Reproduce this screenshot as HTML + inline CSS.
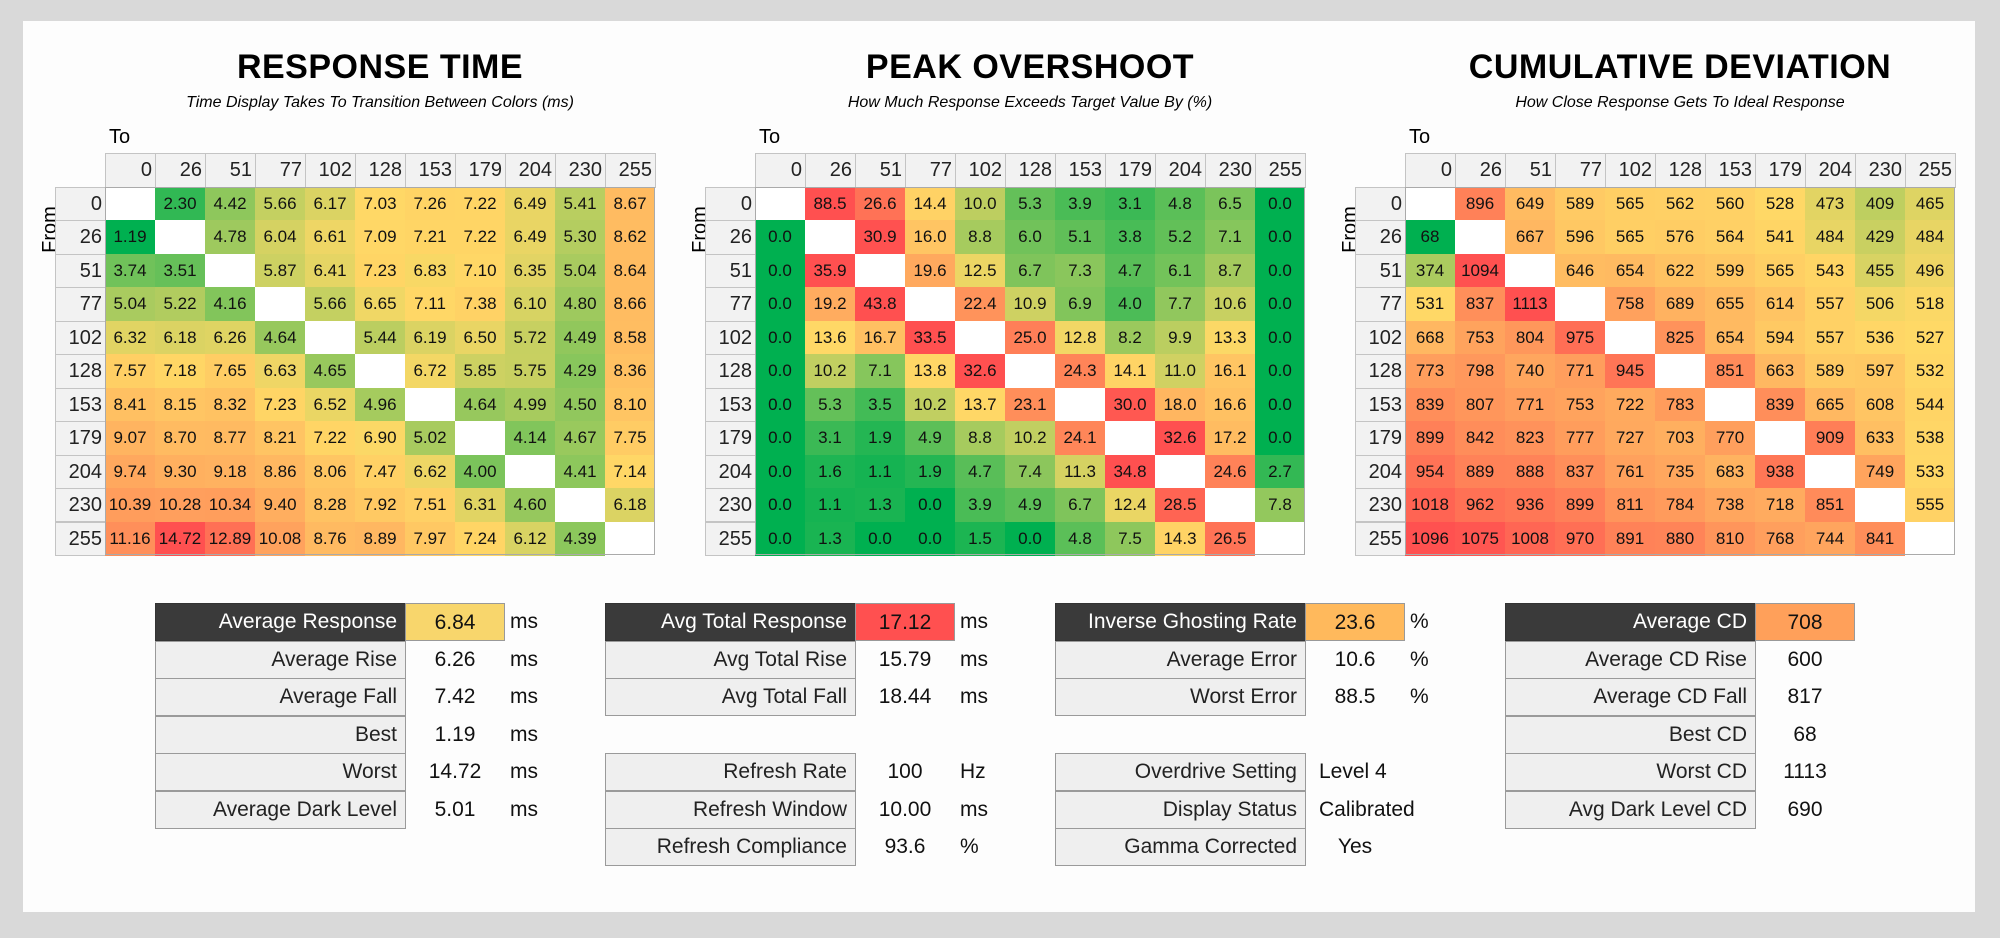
<!DOCTYPE html>
<html><head><meta charset="utf-8"><style>
body{margin:0;width:2000px;height:938px;background:#d9d9d9;font-family:"Liberation Sans",sans-serif;overflow:hidden;position:relative}
#panel{position:absolute;left:23px;top:21px;width:1952px;height:891px;background:#fdfdfd}
.a{position:absolute;box-sizing:border-box;white-space:nowrap}
.title{font-size:34px;font-weight:600;text-align:center;width:600px;letter-spacing:0.5px}
.sub{font-size:16px;font-style:italic;text-align:center;width:600px}
.hc{background:#f2f2f2;border:1px solid #c4c4c4;font-size:20px;text-align:right;padding-right:3px;line-height:32px;color:#222}
.dc{font-size:17px;text-align:center;line-height:33px;color:#111}
.lab{background:#efefef;border:1px solid #9a9a9a;font-size:21px;text-align:right;padding-right:8px;line-height:35px;color:#222}
.hd{background:#3a3a3a;color:#fff;border:1px solid #333}
.val{font-size:21px;text-align:center;line-height:37px;color:#111}
.unit{font-size:21px;line-height:37px;color:#111}
</style></head><body>
<div id="panel"></div>
<script>
const cats=[0,26,51,77,102,128,153,179,204,230,255];
const rtVals=[
[null,2.30,4.42,5.66,6.17,7.03,7.26,7.22,6.49,5.41,8.67],
[1.19,null,4.78,6.04,6.61,7.09,7.21,7.22,6.49,5.30,8.62],
[3.74,3.51,null,5.87,6.41,7.23,6.83,7.10,6.35,5.04,8.64],
[5.04,5.22,4.16,null,5.66,6.65,7.11,7.38,6.10,4.80,8.66],
[6.32,6.18,6.26,4.64,null,5.44,6.19,6.50,5.72,4.49,8.58],
[7.57,7.18,7.65,6.63,4.65,null,6.72,5.85,5.75,4.29,8.36],
[8.41,8.15,8.32,7.23,6.52,4.96,null,4.64,4.99,4.50,8.10],
[9.07,8.70,8.77,8.21,7.22,6.90,5.02,null,4.14,4.67,7.75],
[9.74,9.30,9.18,8.86,8.06,7.47,6.62,4.00,null,4.41,7.14],
[10.39,10.28,10.34,9.40,8.28,7.92,7.51,6.31,4.60,null,6.18],
[11.16,14.72,12.89,10.08,8.76,8.89,7.97,7.24,6.12,4.39,null]];
const osVals=[
[null,88.5,26.6,14.4,10.0,5.3,3.9,3.1,4.8,6.5,0.0],
[0.0,null,30.9,16.0,8.8,6.0,5.1,3.8,5.2,7.1,0.0],
[0.0,35.9,null,19.6,12.5,6.7,7.3,4.7,6.1,8.7,0.0],
[0.0,19.2,43.8,null,22.4,10.9,6.9,4.0,7.7,10.6,0.0],
[0.0,13.6,16.7,33.5,null,25.0,12.8,8.2,9.9,13.3,0.0],
[0.0,10.2,7.1,13.8,32.6,null,24.3,14.1,11.0,16.1,0.0],
[0.0,5.3,3.5,10.2,13.7,23.1,null,30.0,18.0,16.6,0.0],
[0.0,3.1,1.9,4.9,8.8,10.2,24.1,null,32.6,17.2,0.0],
[0.0,1.6,1.1,1.9,4.7,7.4,11.3,34.8,null,24.6,2.7],
[0.0,1.1,1.3,0.0,3.9,4.9,6.7,12.4,28.5,null,7.8],
[0.0,1.3,0.0,0.0,1.5,0.0,4.8,7.5,14.3,26.5,null]];
const cdVals=[
[null,896,649,589,565,562,560,528,473,409,465],
[68,null,667,596,565,576,564,541,484,429,484],
[374,1094,null,646,654,622,599,565,543,455,496],
[531,837,1113,null,758,689,655,614,557,506,518],
[668,753,804,975,null,825,654,594,557,536,527],
[773,798,740,771,945,null,851,663,589,597,532],
[839,807,771,753,722,783,null,839,665,608,544],
[899,842,823,777,727,703,770,null,909,633,538],
[954,889,888,837,761,735,683,938,null,749,533],
[1018,962,936,899,811,784,738,718,851,null,555],
[1096,1075,1008,970,891,880,810,768,744,841,null]];
const rtStats=[["Average Response","6.84","ms"],["Average Rise","6.26","ms"],["Average Fall","7.42","ms"],["Best","1.19","ms"],["Worst","14.72","ms"],["Average Dark Level","5.01","ms"]];
const osStats=[["Avg Total Response","17.12","ms"],["Avg Total Rise","15.79","ms"],["Avg Total Fall","18.44","ms"],null,["Refresh Rate","100","Hz"],["Refresh Window","10.00","ms"],["Refresh Compliance","93.6","%"]];
const igStats=[["Inverse Ghosting Rate","23.6","%"],["Average Error","10.6","%"],["Worst Error","88.5","%"],null,["Overdrive Setting","Level 4",""],["Display Status","Calibrated",""],["Gamma Corrected","Yes",""]];
const cdStats=[["Average CD","708",""],["Average CD Rise","600",""],["Average CD Fall","817",""],["Best CD","68",""],["Worst CD","1113",""],["Avg Dark Level CD","690",""]];

function mix(a,b,t){return a.map((v,i)=>Math.round(v+(b[i]-v)*t));}
const G=[0,176,80],Y=[255,217,102],R=[255,80,80];
function col(v,lo,mid,hi){
  let c;
  if(v<=mid){c=mix(G,Y,Math.max(0,(v-lo)/(mid-lo)));}
  else{c=mix(Y,R,Math.min(1,(v-mid)/(hi-mid)));}
  return 'rgb('+c.join(',')+')';
}
function mk(cls,x,y,w,h,txt,name,inter){
  const d=document.createElement('div');
  d.className='a '+cls;
  d.style.left=x+'px';d.style.top=y+'px';
  if(w!=null)d.style.width=w+'px';
  if(h!=null)d.style.height=h+'px';
  if(txt!=null)d.textContent=txt;
  
  
  document.body.appendChild(d);return d;
}
const CW=50,RH=33.45,TOP=187;
function grid(x0,title,sub,vals,lo,mid,hi,dec,key){
  mk('title',x0+325-300,48,600,null,title,key+'-title');
  mk('sub',x0+325-300,94,600,null,sub,key+'-subtitle');
  const t=mk('',x0+54,126,null,null,'To',key+'-to-label');t.style.fontSize='20px';
  const f=mk('',x0-28,218,null,null,'From',key+'-from-label');f.style.fontSize='20px';f.style.transform='rotate(-90deg)';
  const dx=x0+50;
  cats.forEach((c,i)=>{
    mk('hc',dx+i*CW,153,CW+1,35,String(c),key+'-col-header-'+c);
    mk('hc',x0,TOP+i*RH,CW+1,RH+1,String(c),key+'-row-header-'+c);
  });
  vals.forEach((row,r)=>row.forEach((v,c)=>{
    const d=mk('dc',dx+c*CW,TOP+r*RH,CW,RH+0.6,v==null?'':v.toFixed(dec),key+'-cell-'+cats[r]+'-'+cats[c]);
    d.style.background=v==null?'#fff':col(v,lo,mid,hi);
  }));
  const b=mk('',dx,TOP,CW*11,RH*11,null,key+'-grid-border');b.style.border='1px solid #aaa';
}
grid(55,'RESPONSE TIME','Time Display Takes To Transition Between Colors (ms)',rtVals,1.19,7.0,14.72,2,'rt');
grid(705,'PEAK OVERSHOOT','How Much Response Exceeds Target Value By (%)',osVals,0,13.5,31,1,'os');
grid(1355,'CUMULATIVE DEVIATION','How Close Response Gets To Ideal Response',cdVals,68,525,1100,0,'cd');

function stats(x,list,hcol,key){
  list.forEach((s,i)=>{
    if(!s)return;
    const y=603+i*37.5;
    const l=mk('lab'+(i==0?' hd':''),x,y,251,38,s[0],key+'-label-'+i);
    const v=mk('val',x+250,y,100,38,s[1],key+'-value-'+i);
    if(i==0){v.style.background=hcol;v.style.border='1px solid #999';}
    else if(s[1].length>5){v.style.textAlign='left';v.style.paddingLeft='14px';v.style.width='160px';}
    if(s[2])mk('unit',x+355,y,40,38,s[2],key+'-unit-'+i);
  });
}
stats(155,rtStats,'rgb(248,214,108)','rt-stats');
stats(605,osStats,'rgb(255,80,80)','os-stats');
stats(1055,igStats,'rgb(255,185,92)','ig-stats');
stats(1505,cdStats,'rgb(255,160,90)','cd-stats');
</script>
</body></html>
